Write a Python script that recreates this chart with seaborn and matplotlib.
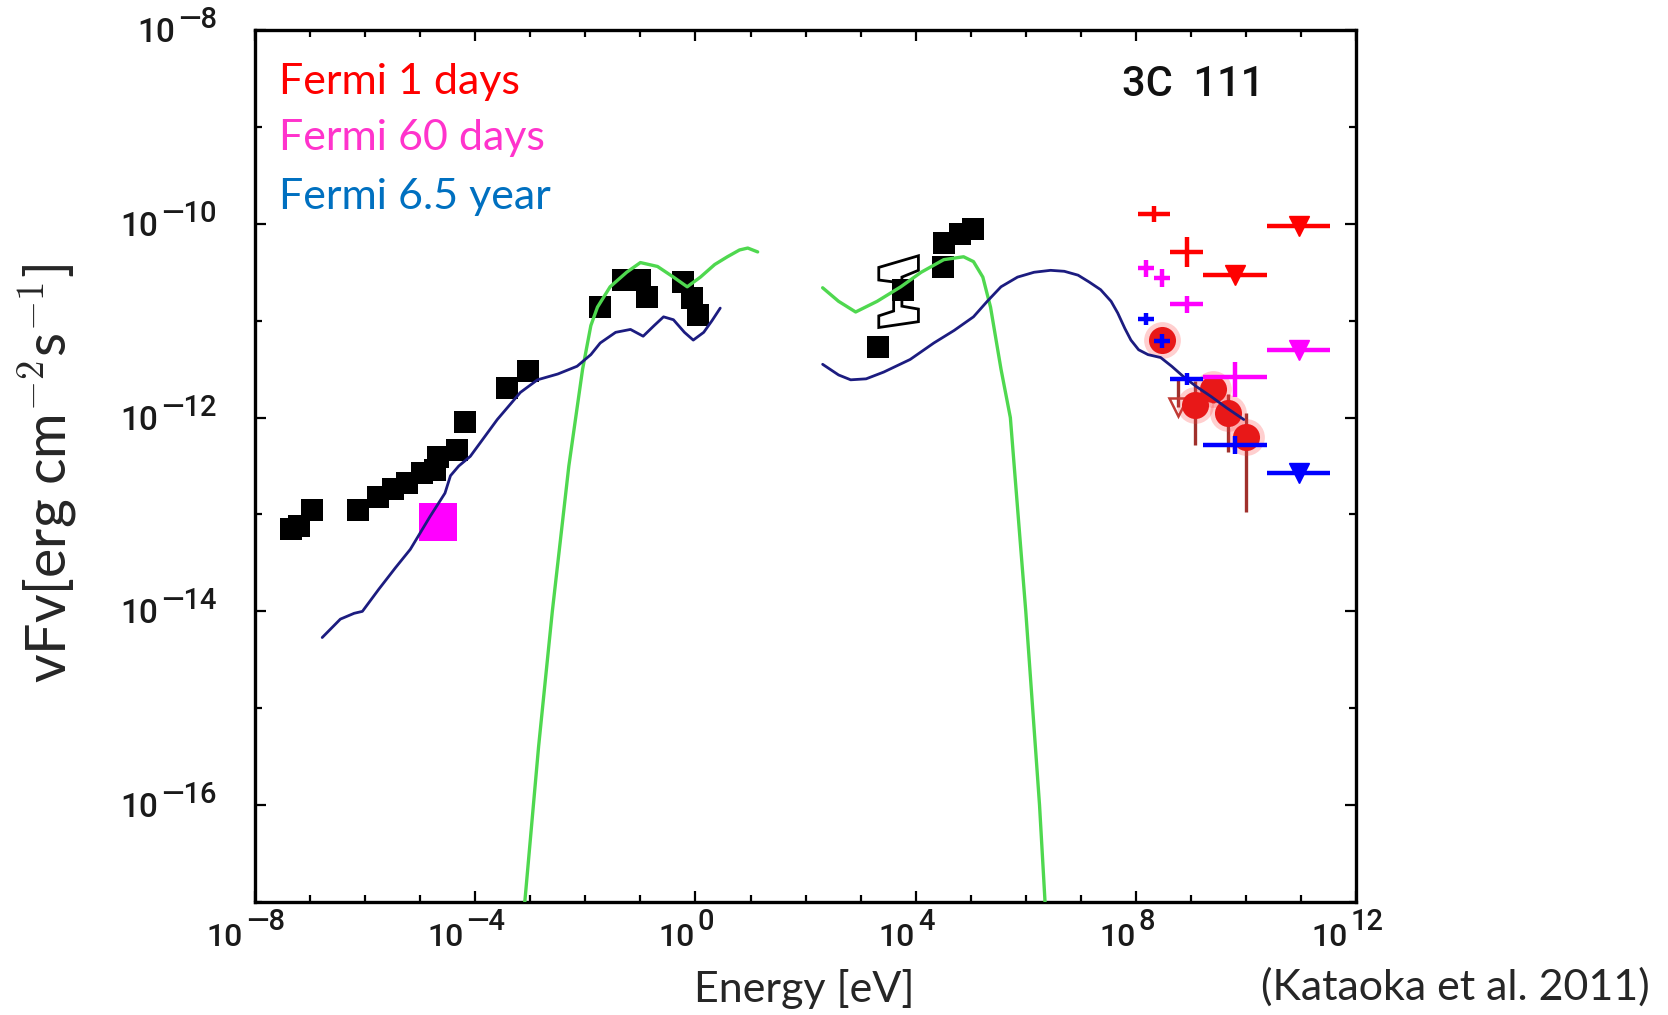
import numpy as np
import pandas as pd
import matplotlib
matplotlib.use("Agg")
import matplotlib.pyplot as plt
import seaborn as sns
from matplotlib.patches import Polygon
from matplotlib.ticker import FixedLocator, NullFormatter

sns.set_theme(style="ticks")
plt.rcParams['font.family'] = ['Lato', 'DejaVu Sans']

# ---------------- data (log10 of energy [eV] and of nuFnu [erg cm^-2 s^-1]) -------------
radio_logE = [-7.35, -7.2, -6.96, -6.13, -5.76, -5.49, -5.24, -4.97, -4.73, -4.68, -4.33, -4.18, -3.42, -3.05]
radio_logF = [-13.15, -13.12, -12.95, -12.95, -12.82, -12.74, -12.67, -12.57, -12.54, -12.41, -12.33, -12.05, -11.69, -11.52]

opt_logE = [-1.73, -1.31, -1.0, -0.88, -0.23, -0.06, 0.05]
opt_logF = [-10.86, -10.58, -10.58, -10.76, -10.60, -10.77, -10.94]

xray_logE = [3.32, 3.77, 4.50, 4.52, 4.80, 5.04]
xray_logF = [-11.27, -10.68, -10.45, -10.20, -10.10, -10.05]

bowtie_logE = [3.33, 4.05, 4.05, 3.75, 3.75, 4.05, 4.05, 3.33, 3.33, 3.60, 3.60, 3.33]
bowtie_logF = [-10.45, -10.33, -10.48, -10.55, -10.85, -10.88, -11.01, -11.07, -10.95, -10.90, -10.60, -10.58]

mag_sq_logE = [-4.68]
mag_sq_logF = [-13.08]

green_left_logE = [-3.1, -2.85, -2.6, -2.3, -2.05, -1.9, -1.78, -1.55, -1.25, -1.0, -0.69, -0.4, -0.15, 0.09, 0.35, 0.58, 0.8, 0.95, 1.13]
green_left_logF = [-17.0, -15.4, -14.0, -12.5, -11.5, -11.05, -10.86, -10.65, -10.5, -10.40, -10.44, -10.55, -10.65, -10.55, -10.42, -10.34, -10.27, -10.25, -10.29]

green_right_logE = [2.31, 2.6, 2.91, 3.3, 3.73, 4.1, 4.51, 4.87, 5.05, 5.22, 5.36, 5.55, 5.72, 6.0, 6.25, 6.35]
green_right_logF = [-10.66, -10.8, -10.91, -10.8, -10.65, -10.5, -10.37, -10.34, -10.39, -10.55, -10.86, -11.5, -12.0, -14.0, -16.0, -17.0]

blue_left_logE = [-6.78, -6.45, -6.2, -6.05, -5.75, -5.45, -5.18, -4.82, -4.55, -4.45, -4.3, -4.09, -3.6, -3.18, -2.87, -2.5, -2.15, -1.9, -1.73, -1.45, -1.18, -0.95, -0.75, -0.58, -0.4, -0.2, -0.04, 0.15, 0.3, 0.45]
blue_left_logF = [-14.27, -14.08, -14.02, -14.0, -13.77, -13.55, -13.36, -13.02, -12.78, -12.6, -12.5, -12.4, -12.02, -11.74, -11.61, -11.55, -11.47, -11.35, -11.23, -11.12, -11.09, -11.16, -11.05, -10.96, -10.99, -11.12, -11.2, -11.12, -11.0, -10.87]

blue_right_logE = [2.31, 2.6, 2.82, 3.1, 3.42, 3.9, 4.33, 4.7, 5.05, 5.3, 5.55, 5.85, 6.15, 6.45, 6.7, 6.95, 7.15, 7.36, 7.55, 7.67, 7.8, 7.91, 8.05, 8.22, 8.45, 8.65, 8.87, 9.1, 9.36, 9.65, 9.96]
blue_right_logF = [-11.45, -11.56, -11.61, -11.6, -11.53, -11.4, -11.23, -11.1, -10.96, -10.8, -10.65, -10.55, -10.5, -10.48, -10.49, -10.53, -10.6, -10.68, -10.8, -10.92, -11.08, -11.2, -11.3, -11.35, -11.38, -11.47, -11.58, -11.68, -11.78, -11.9, -12.02]

# Fermi spectra: centre, bin edges (logE) and flux, flux range (logF)
f1_logE = [8.33, 8.92]
f1_lo_E = [8.04, 8.62]
f1_hi_E = [8.62, 9.22]
f1_logF = [-9.90, -10.29]
f1_lo_F = [-9.98, -10.45]
f1_hi_F = [-9.82, -10.14]
f1_ul_logE = [9.80, 10.96]
f1_ul_lo_E = [9.22, 10.38]
f1_ul_hi_E = [10.38, 11.53]
f1_ul_logF = [-10.53, -10.02]

f60_logE = [8.19, 8.48, 8.92, 9.80]
f60_lo_E = [8.04, 8.33, 8.62, 9.22]
f60_hi_E = [8.33, 8.62, 9.22, 10.38]
f60_logF = [-10.46, -10.56, -10.83, -11.58]
f60_lo_F = [-10.55, -10.65, -10.92, -11.79]
f60_hi_F = [-10.37, -10.47, -10.75, -11.43]
f60_ul_logE = [10.96]
f60_ul_lo_E = [10.38]
f60_ul_hi_E = [11.53]
f60_ul_logF = [-11.30]

f65_logE = [8.19, 8.48, 8.92, 9.80]
f65_lo_E = [8.04, 8.33, 8.62, 9.22]
f65_hi_E = [8.33, 8.62, 9.22, 10.38]
f65_logF = [-10.98, -11.21, -11.60, -12.28]
f65_lo_F = [-11.04, -11.28, -11.66, -12.38]
f65_hi_F = [-10.92, -11.14, -11.54, -12.19]
f65_ul_logE = [10.96]
f65_ul_lo_E = [10.38]
f65_ul_hi_E = [11.53]
f65_ul_logF = [-12.57]

circ_logE = [8.48, 9.07, 9.40, 9.68, 10.0]
circ_logF = [-11.20, -11.87, -11.70, -11.95, -12.20]
circ_lo_F = [-11.20, -12.28, -11.85, -12.35, -12.97]
circ_hi_F = [-11.20, -11.62, -11.58, -11.76, -11.95]

lim_logE = [8.77]
lim_logF = [-11.89]
lim_hi_F = [-11.61]

legend_labels = ["Fermi 1 days", "Fermi 60 days", "Fermi 6.5 year"]
legend_colors = ["#ff0000", "#ff33cc", "#0070c0"]

xtick_exp = [-8, -4, 0, 4, 8, 12]
ytick_exp = [-16, -14, -12, -10, -8]

# ---------------- helpers -------------
def p(v):
    return 10.0 ** np.asarray(v, dtype=float)

def err(c, lo, hi):
    c, lo, hi = p(c), p(lo), p(hi)
    return np.vstack([c - lo, hi - c])

def exp_str(k):
    return ("\u2014" + str(-k)) if k < 0 else str(k)

# ---------------- figure -------------
fig = plt.figure(figsize=(16.68, 10.15), dpi=100)
ax = fig.add_axes([0.1529, 0.1113, 0.6601, 0.8591])
ax.set_xscale('log')
ax.set_yscale('log')

# data squares
for xs, ys in [(radio_logE, radio_logF), (opt_logE, opt_logF), (xray_logE, xray_logF)]:
    sns.scatterplot(x=p(xs), y=p(ys), marker='s', s=260, color='black',
                    edgecolor='black', linewidth=0, ax=ax, zorder=3)
sns.scatterplot(x=p(mag_sq_logE), y=p(mag_sq_logF), marker='s', s=780, color='#ff00ff',
                edgecolor='#ff00ff', linewidth=0, ax=ax, zorder=3)
bow = Polygon(np.column_stack([p(bowtie_logE), p(bowtie_logF)]), closed=True,
              facecolor='white', edgecolor='black', lw=2.0, zorder=2.5)
ax.add_patch(bow)

# model curves
for xs, ys in [(green_left_logE, green_left_logF), (green_right_logE, green_right_logF)]:
    sns.lineplot(x=p(xs), y=p(ys), sort=False, color='#4fd84f', lw=2.4, ax=ax, zorder=4)
for xs, ys in [(blue_left_logE, blue_left_logF), (blue_right_logE, blue_right_logF)]:
    sns.lineplot(x=p(xs), y=p(ys), sort=False, color='#1c1c80', lw=2.0, ax=ax, zorder=5)

# red circles (other gamma-ray data)
ax.errorbar(p(circ_logE), p(circ_logF), yerr=err(circ_logF, circ_lo_F, circ_hi_F), fmt='none',
            ecolor='#a0302c', elinewidth=2.4, capsize=0, zorder=3.5)
ax.errorbar(p(lim_logE), p(lim_logF), yerr=err(lim_logF, lim_logF, lim_hi_F), fmt='v',
            mfc='none', mec='#c03a34', mew=1.8, ms=13, ecolor='#a0302c', elinewidth=2.4,
            capsize=0, zorder=3.5)
sns.scatterplot(x=p(circ_logE), y=p(circ_logF), marker='o', s=700, color='#ff4040',
                alpha=0.25, linewidth=0, ax=ax, zorder=3.6)
sns.scatterplot(x=p(circ_logE), y=p(circ_logF), marker='o', s=380, color='#e81818',
                linewidth=0, ax=ax, zorder=3.7)

# Fermi spectra
sets = [
    (f1_logE, f1_lo_E, f1_hi_E, f1_logF, f1_lo_F, f1_hi_F,
     f1_ul_logE, f1_ul_lo_E, f1_ul_hi_E, f1_ul_logF, '#ff0000'),
    (f60_logE, f60_lo_E, f60_hi_E, f60_logF, f60_lo_F, f60_hi_F,
     f60_ul_logE, f60_ul_lo_E, f60_ul_hi_E, f60_ul_logF, '#ff00ff'),
    (f65_logE, f65_lo_E, f65_hi_E, f65_logF, f65_lo_F, f65_hi_F,
     f65_ul_logE, f65_ul_lo_E, f65_ul_hi_E, f65_ul_logF, '#0000ff'),
]
for (xe, xl, xh, ye, yl, yh, ux, uxl, uxh, uy, col) in sets:
    ax.errorbar(p(xe), p(ye), xerr=err(xe, xl, xh), yerr=err(ye, yl, yh), fmt='none',
                ecolor=col, elinewidth=3.2, capsize=0, zorder=6)
    ax.errorbar(p(ux), p(uy), xerr=err(ux, uxl, uxh), fmt='v', color=col, ms=14,
                mec=col, ecolor=col, elinewidth=3.2, capsize=0, zorder=6)

# axes
ax.set_xlim(1e-8, 1e12)
ax.set_ylim(1e-17, 1e-8)
ax.xaxis.set_major_locator(FixedLocator(p(xtick_exp)))
ax.xaxis.set_major_formatter(NullFormatter())
ax.xaxis.set_minor_locator(FixedLocator(p(list(range(-8, 13)))))
ax.xaxis.set_minor_formatter(NullFormatter())
ax.yaxis.set_major_locator(FixedLocator(p(ytick_exp)))
ax.yaxis.set_major_formatter(NullFormatter())
ax.yaxis.set_minor_locator(FixedLocator(p(list(range(-17, -7)))))
ax.yaxis.set_minor_formatter(NullFormatter())
ax.tick_params(which='both', direction='in', top=True, right=True, colors='black', width=1.6)
ax.tick_params(which='major', length=8)
ax.tick_params(which='minor', length=5)
for s in ax.spines.values():
    s.set_linewidth(2.4)
    s.set_color('black')

# power-of-ten tick labels with large exponents (Helvetica-like)
renderer = fig.canvas.get_renderer()
TF = ['Roboto', 'Liberation Sans']
TW = 'medium'
TC = '#1a1a1a'

def text_width(s, size):
    t = fig.text(0, 0, s, fontsize=size, family=TF, weight=TW)
    w = t.get_window_extent(renderer).width
    t.remove()
    return w

xb, xe_size = 23, 21
for k in xtick_exp:
    w10 = text_width("10", xb)
    we = text_width(exp_str(k), xe_size)
    gap = 3
    start = -9 - (w10 + gap + we) / 2
    ax.annotate("10", xy=(10.0 ** k, 0), xycoords=ax.get_xaxis_transform(),
                xytext=(start, -35), textcoords='offset pixels', ha='left', va='center',
                fontsize=xb, family=TF, weight=TW, color=TC, annotation_clip=False)
    ax.annotate(exp_str(k), xy=(10.0 ** k, 0), xycoords=ax.get_xaxis_transform(),
                xytext=(start + w10 + gap, -20), textcoords='offset pixels', ha='left',
                va='center', fontsize=xe_size, family=TF, weight=TW, color=TC,
                annotation_clip=False)

yb, ye_size = 24, 21
for k in ytick_exp:
    we = text_width(exp_str(k), ye_size)
    ax.annotate(exp_str(k), xy=(0, 10.0 ** k), xycoords=ax.get_yaxis_transform(),
                xytext=(-38, 10), textcoords='offset pixels', ha='right', va='center',
                fontsize=ye_size, family=TF, weight=TW, color=TC, annotation_clip=False)
    ax.annotate("10", xy=(0, 10.0 ** k), xycoords=ax.get_yaxis_transform(),
                xytext=(-38 - we - 3, -3), textcoords='offset pixels', ha='right',
                va='center', fontsize=yb, family=TF, weight=TW, color=TC,
                annotation_clip=False)

# texts
ys_leg = [0.940, 0.876, 0.808]
for lab, col, yy in zip(legend_labels, legend_colors, ys_leg):
    ax.text(0.022, yy, lab, color=col, fontsize=31, ha='left', va='center',
            transform=ax.transAxes, zorder=8)
ax.text(0.7875, 0.937, "3C  111", fontsize=30, family=TF, weight=TW, color='#111111',
        ha='left', va='center', transform=ax.transAxes)

fig.text(0.029, 0.534, r"vFv[erg cm$^{-2}$s$^{-1}$]", rotation=90, fontsize=40,
         ha='center', va='center', math_fontfamily='cm')
fig.text(0.482, 0.026, "Energy [eV]", fontsize=31, ha='center', va='center')
fig.text(0.989, 0.028, "(Kataoka et al. 2011)", fontsize=31, ha='right', va='center')

fig.savefig("out.png", dpi=100)
